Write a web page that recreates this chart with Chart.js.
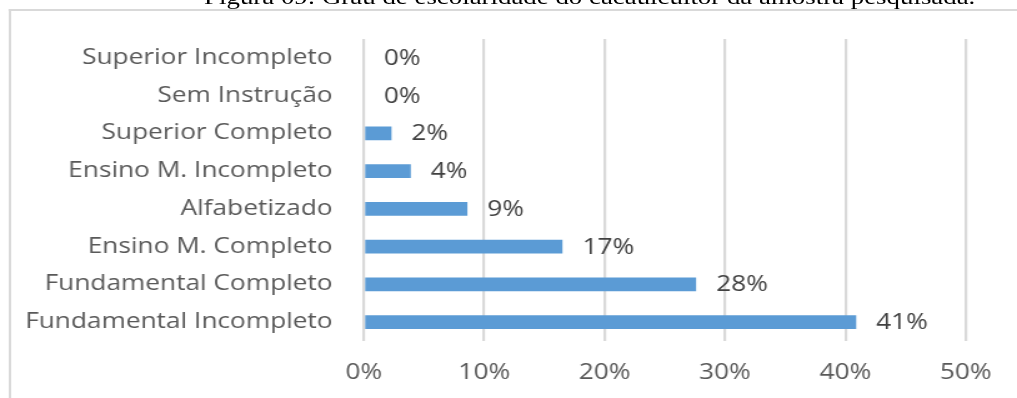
<!DOCTYPE html>
<html lang="pt">
<head>
<meta charset="utf-8">
<title>Grau de escolaridade do cacauicultor</title>
<script src="https://cdn.jsdelivr.net/npm/chart.js@4"></script>
<style>
  html, body { margin: 0; padding: 0; background: #fff; overflow: hidden; }
  body { width: 1017px; height: 398px; position: relative; }
  /* the figure is laid out narrower and stretched horizontally, like the printed page */
  #wrap {
    position: absolute; left: 0; top: 0;
    width: 814px; height: 398px;
    transform: scaleX(1.2494); transform-origin: 0 0;
  }
  #caption {
    position: absolute; left: 0; width: 944px; top: -13px;
    text-align: center;
    font-family: "Liberation Serif", "Times New Roman", serif;
    font-size: 21.5px; line-height: 21px; color: #000;
    white-space: nowrap;
  }
  #frame {
    position: absolute; left: 6.5px; top: 9px; width: 900px; height: 500px;
    border-left: 2px solid #d9d9d9; border-top: 2px solid #d9d9d9;
  }
  #chart { position: absolute; left: 0; top: 0; }
</style>
</head>
<body>
<div id="wrap">
  <div id="caption">Figura 09: Grau de escolaridade do cacauicultor da amostra pesquisada.</div>
  <div id="frame"></div>
  <canvas id="chart" width="814" height="398"></canvas>
</div>
<script>
// Education level of the surveyed cocoa growers (% of sample)
const categories = [
  'Superior Incompleto',
  'Sem Instrução',
  'Superior Completo',
  'Ensino M. Incompleto',
  'Alfabetizado',
  'Ensino M. Completo',
  'Fundamental Completo',
  'Fundamental Incompleto'
];
const shares = [0, 0, 2.3, 3.9, 8.6, 16.5, 27.6, 40.9];
const percentTicks = [0, 10, 20, 30, 40, 50];

const BAR_BLUE = '#5b9bd5';
const GRID_GRAY = '#d9d9d9';
const LABEL_GRAY = '#595959';

// writes the rounded percentage just past the end of each bar
const barValueLabels = {
  id: 'barValueLabels',
  afterDatasetsDraw(chart) {
    const ctx = chart.ctx;
    const meta = chart.getDatasetMeta(0);
    ctx.save();
    ctx.font = "21px 'Open Sans'";
    ctx.fillStyle = '#404040';
    ctx.textAlign = 'left';
    ctx.textBaseline = 'middle';
    meta.data.forEach((bar, i) => {
      const v = chart.data.datasets[0].data[i];
      ctx.fillText(Math.round(v) + '%', bar.x + 16, bar.y + 1);
    });
    ctx.restore();
  }
};

new Chart(document.getElementById('chart'), {
  type: 'bar',
  data: {
    labels: categories,
    datasets: [{
      data: shares,
      backgroundColor: BAR_BLUE,
      borderWidth: 0,
      categoryPercentage: 1,
      barPercentage: 0.37
    }]
  },
  options: {
    indexAxis: 'y',
    responsive: false,
    animation: false,
    devicePixelRatio: 1,
    layout: { padding: { top: 39, left: 0, right: 41, bottom: 0 } },
    plugins: {
      legend: { display: false },
      tooltip: { enabled: false },
      title: { display: false }
    },
    scales: {
      x: {
        min: 0,
        max: 50,
        afterBuildTicks(scale) {
          scale.ticks = percentTicks.map(v => ({ value: v }));
        },
        afterFit(scale) { scale.height = 57; },
        grid: { color: GRID_GRAY, lineWidth: 2.2, drawTicks: false },
        border: { display: false },
        ticks: {
          padding: 19,
          color: LABEL_GRAY,
          font: { family: "'Open Sans'", size: 21 },
          callback: v => v + '%'
        }
      },
      y: {
        afterFit(scale) { scale.width = 291.2; },
        grid: { display: false, drawTicks: false },
        border: { display: false },
        ticks: {
          padding: 25,
          color: LABEL_GRAY,
          font: { family: "'Open Sans'", size: 21 }
        }
      }
    }
  },
  plugins: [barValueLabels]
});
</script>
</body>
</html>
